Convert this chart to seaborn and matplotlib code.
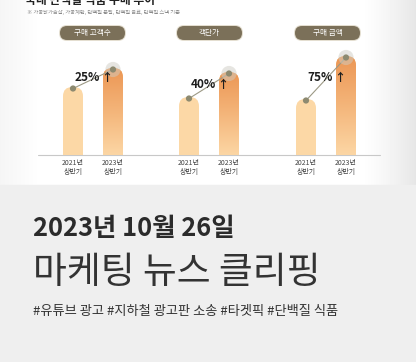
import numpy as np
import pandas as pd
import seaborn as sns
import matplotlib.pyplot as plt
from matplotlib.patches import FancyBboxPatch
from matplotlib.colors import LinearSegmentedColormap

# data (bar heights in chart units)
metrics = ["구매 고객수", "객단가", "구매 금액"]
periods = ["2021년\n상반기", "2023년\n상반기"]
h2021 = [68, 58, 56]
h2023 = [87, 83, 99]
growth = ["25%", "40%", "75%"]

sns.set_style("white")
plt.rcParams["font.family"] = ["Noto Sans CJK KR", "DejaVu Sans"]

fig = plt.figure(figsize=(4.16, 3.62), dpi=100)

# background in pixel coordinates
bg = fig.add_axes([0, 0, 1, 1])
bg.set_xlim(0, 416)
bg.set_ylim(362, 0)
bg.axis("off")

xs = np.arange(416)
shade = np.ones(416)
shade = np.where(xs > 360, 1 - 0.10 * ((xs - 360) / 56) ** 1.3, shade)
shade = np.where(xs < 40, 1 - 0.04 * ((40 - xs) / 40), shade)
panel = np.tile(shade, (185, 1))
bg.imshow(panel, extent=[0, 416, 185, 0], cmap="gray", vmin=0, vmax=1,
          aspect="auto", interpolation="bilinear", zorder=0)
bg.add_patch(plt.Rectangle((0, 185), 416, 177, color="#efefef", zorder=0))

# title is cropped at the top edge in the reference
bg.text(25, 0.5, "국내 단백질 식품 구매 추이", fontsize=8.5, fontweight="bold",
        color="#222222", va="center", ha="left")
bg.text(27, 12.5, "※ 가공닭가슴살, 가공계란, 단백질 분말, 단백질 음료, 단백질 스낵 기준",
        fontsize=3.8, color="#8a8a8a", va="center", ha="left")

# baseline
bg.plot([38, 380], [155, 155], color="#c8c8c8", lw=0.8, zorder=1)

# metric pills
pill_cx = [92.5, 209.5, 327.5]
for cx, name in zip(pill_cx, metrics):
    bg.add_patch(FancyBboxPatch((cx - 33.5, 25), 67, 16,
                                boxstyle="round,pad=0,rounding_size=8",
                                fc="#e4ded0", ec="none", zorder=2))
    bg.add_patch(FancyBboxPatch((cx - 32.5, 26), 65, 14,
                                boxstyle="round,pad=0,rounding_size=7",
                                fc="#7b7059", ec="none", zorder=3))
    bg.text(cx, 33, name, fontsize=5.5, color="white", ha="center",
            va="center", zorder=4)

# bottom texts
bg.text(33, 229, "2023년 10월 26일", fontsize=18.3, fontweight="bold",
        color="#2b2b2b", va="center", ha="left")
bg.text(33, 272, "마케팅 뉴스 클리핑", fontsize=26.5, fontweight="light",
        color="#333333", va="center", ha="left")
bg.text(33, 311, "#유튜브 광고 #지하철 광고판 소송 #타겟픽 #단백질 식품",
        fontsize=9.5, color="#333333", va="center", ha="left")

# bar panels
light = "#fcd8a6"
grad = LinearSegmentedColormap.from_list("g", ["#fcd6a4", "#f4b57a", "#ec9755"])
lefts = [53, 169, 286]
for i, left in enumerate(lefts):
    ax = fig.add_axes([left / 416, (362 - 155) / 362, 80 / 416, 110 / 362])
    df = pd.DataFrame({"period": periods, "value": [h2021[i], h2023[i]]})
    sns.barplot(data=df, x="period", y="value", ax=ax, width=0.5,
                color=light, saturation=1)
    ax.set_xlim(-0.5, 1.5)
    ax.set_ylim(0, 110)
    tops = []
    for j, bar in enumerate(list(ax.patches)):
        x0, w, h = bar.get_x(), bar.get_width(), bar.get_height()
        bar.set_visible(False)
        rb = FancyBboxPatch((x0, -20), w, h + 20,
                            boxstyle="round,pad=0,rounding_size=0.23",
                            mutation_aspect=40, fc=light, ec="none", zorder=2)
        ax.add_patch(rb)
        if j == 1:
            g = np.linspace(0, 1, 100).reshape(-1, 1)
            im = ax.imshow(g, extent=[x0, x0 + w, 0, h], origin="lower",
                           cmap=grad, aspect="auto", zorder=3)
            im.set_clip_path(rb)
        tops.append((x0 + w / 2, h - 1.5))
    (ax0, ay0), (ax1, ay1) = tops
    ax.plot([ax0, ax1], [ay0, ay1], color="#9c9985", lw=0.8, zorder=4)
    ax.scatter([ax1], [ay1], s=120, color="#cfcdc4", alpha=0.5,
               edgecolor="none", zorder=4)
    ax.scatter([ax0, ax1], [ay0, ay1], s=20, color="#8d8a70",
               edgecolor="none", zorder=5)
    ymid = (h2021[i] + h2023[i]) / 2
    ax.text(0.68, ymid, growth[i], fontsize=8.5, fontweight="bold",
            color="#1e1e1e", ha="right", va="center", zorder=6)
    ax.text(0.84, ymid, "↑", fontsize=8, fontweight="bold",
            color="#1e1e1e", ha="center", va="center", zorder=6)
    ax.set_xlim(-0.5, 1.5)
    ax.set_ylim(0, 110)
    ax.set_xlabel("")
    ax.set_ylabel("")
    ax.set_yticks([])
    ax.patch.set_alpha(0)
    sns.despine(ax=ax, left=True, bottom=True)
    ax.tick_params(axis="x", length=0, pad=3, labelsize=5, colors="#444444")
    for lbl in ax.get_xticklabels():
        lbl.set_linespacing(1.15)

fig.savefig("out.png", dpi=100)
